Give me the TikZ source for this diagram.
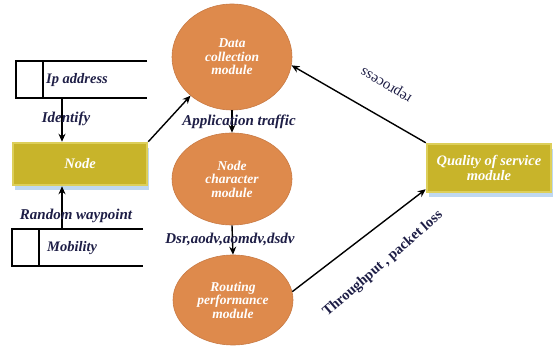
\documentclass[tikz,border=0pt]{standalone}
\usepackage{fontspec}
\setmainfont{Liberation Serif}
\usetikzlibrary{arrows.meta,shapes.geometric,shadows}
\definecolor{orb}{HTML}{DE8A4C}
\definecolor{orbd}{HTML}{C87A44}
\definecolor{olv}{HTML}{C8B42A}
\definecolor{olvl}{HTML}{DDCF5A}
\definecolor{navy}{HTML}{1E1E46}
\definecolor{shblue}{HTML}{B8D4F0}
\tikzset{
  modell/.style={ellipse, fill=orb, draw=orbd, line width=0.6pt, inner sep=0pt,
    minimum width=120pt, text=white, align=center,
    font=\fontsize{13.5}{13.5}\selectfont\bfseries\itshape},
  boxy/.style={rectangle, fill=olv, draw=olvl, line width=2.5pt, inner sep=0pt,
    text=white, align=center, font=\fontsize{14.5}{15}\selectfont\bfseries\itshape,
    drop shadow={shadow xshift=2pt, shadow yshift=-5pt, fill=shblue, opacity=0.9}},
  lbl/.style={text=navy, font=\fontsize{15}{16}\selectfont\bfseries\itshape, inner sep=1pt},
  storeline/.style={line width=1.5pt, black},
  arr/.style={line width=1.4pt, -{Stealth[length=8pt,width=7pt]}},
}
\begin{document}
\begin{tikzpicture}[x=1pt,y=-1pt]
\useasboundingbox (0,0) rectangle (555,347);
% data stores
\draw[storeline] (147,61) -- (16,61) -- (16,98) -- (147,98);
\draw[storeline] (43,61) -- (43,98);
\node[lbl, font=\fontsize{14.5}{15}\selectfont\bfseries\itshape, anchor=west] (ip) at (45,80) {Ip address};
\coordinate (ipb) at (62,98);
\draw[storeline] (143,229) -- (12,229) -- (12,266) -- (143,266);
\draw[storeline] (39,229) -- (39,266);
\node[lbl, font=\fontsize{14.5}{15}\selectfont\bfseries\itshape, anchor=west] (mob) at (46,248) {Mobility};
\coordinate (mobt) at (62,229);
% boxes
\node[boxy, minimum width=134pt, minimum height=42pt] (node) at (80,164) {Node};
\node[boxy, minimum width=124pt, minimum height=48pt] (qos) at (489,168) {Quality of service\\module};
% ellipses
\node[modell, minimum height=106pt] (dc) at (232,57) {Data\\collection\\module};
\node[modell, minimum height=92pt] (nc) at (232,179) {Node\\character\\module};
\node[modell, minimum height=90pt] (rp) at (233,300) {Routing\\performance\\module};
% arrows
\draw[arr] (ipb) -- (ipb |- node.north);
\draw[arr] (mobt) -- (mobt |- node.south);
\draw[arr] (node.north east) -- (dc.223);
\draw[arr] (dc.south) -- (nc.north);
\draw[arr] (nc.south) -- (rp.north);
\draw[arr] (rp.8) -- ([yshift=4pt]qos.south west);
\draw[arr] (qos.north west) -- (dc.-8);
% labels
\node[lbl] (idl) at (66,119) {Identify};
\node[lbl] (rwl) at (76,216) {Random waypoint};
\node[lbl] (atl) at (239,122) {Application traffic};
\node[lbl] (dsl) at (230,239) {Dsr,aodv,aomdv,dsdv};
\node[lbl, font=\fontsize{15}{16}\selectfont, rotate=149] (rpl) at (387,84) {reprocess};
\node[lbl, font=\fontsize{14.5}{16}\selectfont\bfseries, rotate=41] (tpl) at (383,264) {Throughput , packet loss};
\end{tikzpicture}
\end{document}
